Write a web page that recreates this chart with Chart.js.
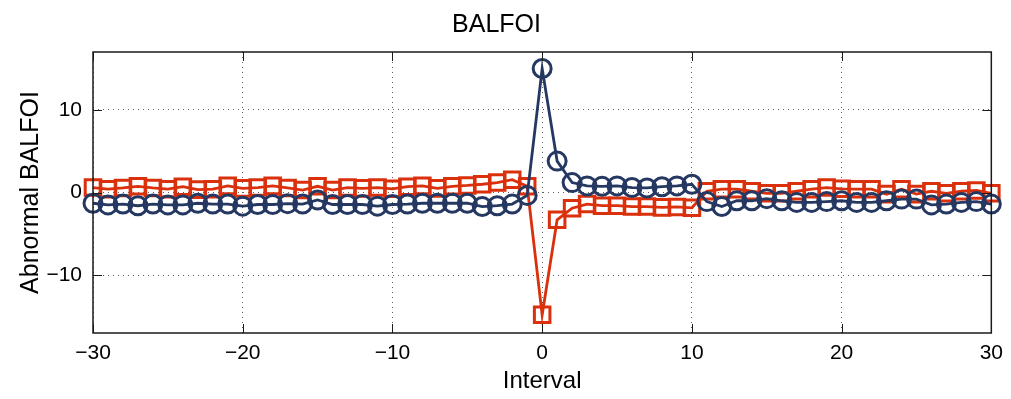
<!DOCTYPE html>
<html>
<head>
<meta charset="utf-8">
<script src="https://cdn.jsdelivr.net/npm/chart.js@4.4.1/dist/chart.umd.min.js"></script>
<style>
  html, body { margin: 0; padding: 0; background: #ffffff; }
  #wrap { width: 1011px; height: 399px; }
</style>
</head>
<body>
<div id="wrap"><canvas id="c" width="1011" height="399"></canvas></div>
<script>
// Event-window intervals (x axis)
const intervals = [
  -30, -29, -28, -27, -26, -25, -24, -23, -22, -21,
  -20, -19, -18, -17, -16, -15, -14, -13, -12, -11,
  -10, -9, -8, -7, -6, -5, -4, -3, -2, -1,
  0, 1, 2, 3, 4, 5, 6, 7, 8, 9,
  10, 11, 12, 13, 14, 15, 16, 17, 18, 19,
  20, 21, 22, 23, 24, 25, 26, 27, 28, 29, 30
];

// Abnormal BALFOI, circle-marked series (navy)
const circleSeries = [
  -1.3, -1.5, -1.4, -1.6, -1.4, -1.5, -1.5, -1.3, -1.4, -1.4,
  -1.65, -1.45, -1.45, -1.35, -1.4, -0.9, -1.45, -1.45, -1.45, -1.65,
  -1.45, -1.4, -1.3, -1.3, -1.3, -1.3, -1.7, -1.6, -1.4, -0.35,
  15.0, 3.8, 1.2, 0.8, 0.75, 0.8, 0.6, 0.55, 0.7, 0.8,
  1.0, -1.1, -1.7, -1.0, -1.0, -0.75, -1.0, -1.2, -1.2, -1.1,
  -1.0, -1.2, -1.2, -1.0, -0.8, -0.8, -1.5, -1.4, -1.2, -1.1, -1.4
];

// Abnormal BALFOI, square-marked series (red)
const squareSeries = [
  0.6, 0.4, 0.55, 0.75, 0.55, 0.4, 0.7, 0.35, 0.4, 0.8,
  0.5, 0.6, 0.8, 0.55, 0.3, 0.75, 0.3, 0.6, 0.5, 0.6,
  0.45, 0.7, 0.8, 0.5, 0.75, 0.85, 1.0, 1.2, 1.55, 0.75,
  -14.8, -3.3, -1.9, -1.4, -1.6, -1.6, -1.7, -1.7, -1.8, -1.75,
  -1.85, 0.15, 0.4, 0.4, 0.15, -0.1, -0.1, 0.15, 0.4, 0.6,
  0.45, 0.4, 0.4, -0.2, 0.4, -0.2, 0.15, -0.1, 0.15, 0.25, -0.1
];

// Axis ticks
const xTicks = [-30, -20, -10, 0, 10, 20, 30];
const yTicks = [-10, 0, 10];

const NAVY = 'rgb(37,56,98)';
const RED = 'rgb(218,48,12)';
const FONT = '"Liberation Sans", Arial, Helvetica, sans-serif';

const toPoints = (ys) => intervals.map((x, i) => ({ x: x, y: ys[i] }));
const signed = (v) => (v < 0 ? '\u2212' + Math.abs(v) : String(v));

// Inward tick marks and the surrounding box, drawn over the plot
const boxAndTicks = {
  id: 'boxAndTicks',
  afterDatasetsDraw(chart) {
    const { ctx, chartArea: a, scales } = chart;
    const len = 9;
    ctx.save();
    ctx.strokeStyle = '#1a1a1a';
    ctx.lineWidth = 1;
    ctx.beginPath();
    xTicks.forEach(v => {
      const px = Math.round(scales.x.getPixelForValue(v)) + 0.5;
      ctx.moveTo(px, a.bottom); ctx.lineTo(px, a.bottom - len);
      ctx.moveTo(px, a.top); ctx.lineTo(px, a.top + len);
    });
    yTicks.forEach(v => {
      const py = Math.round(scales.y.getPixelForValue(v)) + 0.5;
      ctx.moveTo(a.left, py); ctx.lineTo(a.left + len, py);
      ctx.moveTo(a.right, py); ctx.lineTo(a.right - len, py);
    });
    ctx.stroke();
    ctx.lineWidth = 1.5;
    ctx.strokeRect(a.left, a.top, a.right - a.left, a.bottom - a.top);
    ctx.restore();
  }
};

new Chart(document.getElementById('c'), {
  type: 'line',
  data: {
    datasets: [
      {
        data: toPoints(circleSeries),
        borderColor: NAVY,
        borderWidth: 2.8,
        pointStyle: 'circle',
        pointRadius: 9,
        pointBorderWidth: 3,
        pointBorderColor: NAVY,
        pointBackgroundColor: 'rgba(0,0,0,0)',
        tension: 0,
        clip: false,
        order: 0
      },
      {
        data: toPoints(squareSeries),
        borderColor: RED,
        borderWidth: 2.8,
        pointStyle: 'rect',
        pointRadius: 11,
        pointBorderWidth: 3,
        pointBorderColor: RED,
        pointBackgroundColor: 'rgba(0,0,0,0)',
        tension: 0,
        clip: false,
        order: 1
      }
    ]
  },
  options: {
    responsive: false,
    animation: false,
    layout: { padding: { left: 0, right: 18, top: 0, bottom: 0 } },
    plugins: {
      legend: { display: false },
      tooltip: { enabled: false },
      title: {
        display: true,
        text: 'BALFOI',
        color: '#000',
        font: { family: FONT, size: 25, weight: 'normal', lineHeight: 1.2 },
        padding: { top: 10, bottom: 12 }
      }
    },
    scales: {
      x: {
        type: 'linear',
        min: -30,
        max: 30,
        afterBuildTicks(scale) { scale.ticks = xTicks.map(v => ({ value: v })); },
        afterFit(scale) { scale.height = 66; },
        ticks: {
          color: '#000',
          font: { family: FONT, size: 21 },
          padding: 8,
          maxRotation: 0,
          callback: signed
        },
        grid: { color: 'rgba(40,40,40,0.75)', lineWidth: 1, drawTicks: false },
        border: { display: false, dash: [1, 4] },
        title: {
          display: true,
          text: 'Interval',
          color: '#000',
          font: { family: FONT, size: 24 },
          padding: { top: 0, bottom: 3 }
        }
      },
      y: {
        type: 'linear',
        min: -17,
        max: 17,
        afterBuildTicks(scale) { scale.ticks = yTicks.map(v => ({ value: v })); },
        afterFit(scale) { scale.width = 93; },
        ticks: {
          color: '#000',
          font: { family: FONT, size: 21 },
          padding: 11,
          callback: signed
        },
        grid: { color: 'rgba(40,40,40,0.75)', lineWidth: 1, drawTicks: false },
        border: { display: false, dash: [1, 4] },
        title: {
          display: true,
          text: 'Abnormal BALFOI',
          color: '#000',
          font: { family: FONT, size: 25 },
          padding: { top: 16, bottom: 0 }
        }
      }
    }
  },
  plugins: [boxAndTicks]
});
</script>
</body>
</html>
